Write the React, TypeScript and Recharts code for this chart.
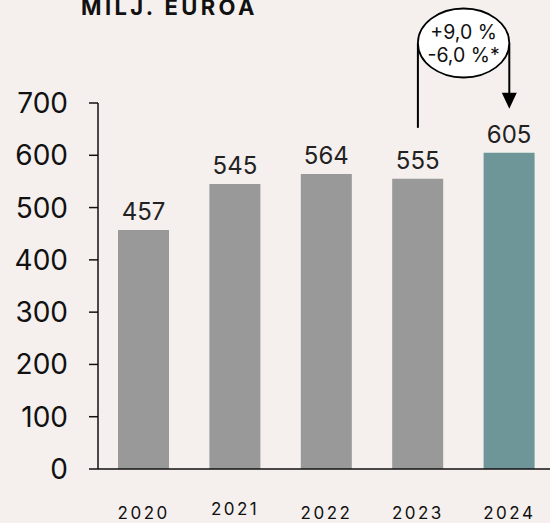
import { BarChart, Bar, XAxis, YAxis, Cell, LabelList } from "recharts"

const years = ["2020", "2021", "2022", "2023", "2024"]
const revenue = [457, 545, 564, 555, 605]
const yTicks = [0, 100, 200, 300, 400, 500, 600, 700]
const changeLabels = ["+9,0 %", "-6,0 %*"]
const title = "MILJ. EUROA"

const data = years.map((y, i) => ({ year: y, value: revenue[i] }))

const W = 555
const H = 523
const Y_W = 98
const X_H = 54
const TOP = 103
const MAX = 700
const BG = "#f5f0ed"
const GREY = "#999999"
const TEAL = "#6e9699"
const FONT = "Inter, 'Noto Sans', sans-serif"

const plotW = W - Y_W
const plotH = H - TOP - X_H
const band = plotW / years.length
const xc = (i: number) => Y_W + (i + 0.5) * band
const yv = (v: number) => TOP + plotH - (v / MAX) * plotH

const YearTick = (props: any) => {
  const { x, y, payload } = props
  const lift = payload.value === "2021" ? -4 : 0
  return (
    <text x={x} y={y + 42 + lift} textAnchor="middle" fontSize={17} letterSpacing={2.5} fill="#111" fontFamily={FONT}>
      {payload.value}
    </text>
  )
}

function Annotation() {
  const a = years.length - 2
  const b = years.length - 1
  const x1 = xc(a)
  const x2 = xc(b)
  const cx = (x1 + x2) / 2
  const cy = 43
  const rx = (x2 - x1) / 2
  const ry = 34.5
  const leftEnd = yv(revenue[a]) - 51
  const tip = yv(revenue[b]) - 44
  return (
    <svg width={550} height={H} style={{ position: "absolute", left: 0, top: 0, pointerEvents: "none" }}>
      <text x={81} y={15} fontSize={22} fontWeight={700} letterSpacing={3.4} fill="#111" fontFamily={FONT}>
        {title}
      </text>
      <line x1={x1} y1={cy} x2={x1} y2={leftEnd} stroke="#000" strokeWidth={2} />
      <line x1={x2} y1={cy} x2={x2} y2={tip - 14} stroke="#000" strokeWidth={2} />
      <polygon points={`${x2 - 7.5},${tip - 16} ${x2 + 7.5},${tip - 16} ${x2},${tip}`} fill="#000" />
      <ellipse cx={cx} cy={cy} rx={rx} ry={ry} fill="#fff" stroke="#000" strokeWidth={1.8} />
      <text x={cx} y={cy - 4} textAnchor="middle" fontSize={19.5} fill="#111" fontFamily={FONT}>
        {changeLabels[0]}
      </text>
      <text x={cx} y={cy + 19} textAnchor="middle" fontSize={19.5} fill="#111" fontFamily={FONT}>
        {changeLabels[1]}
      </text>
    </svg>
  )
}

export default function App() {
  return (
    <div style={{ position: "absolute", left: 0, top: 0, width: 550, height: H, overflow: "hidden", background: BG, fontFamily: FONT }}>
      <BarChart width={W} height={H} data={data} margin={{ top: TOP, right: 0, bottom: 0, left: 0 }}>
        <XAxis
          dataKey="year"
          height={X_H}
          tickLine={false}
          axisLine={{ stroke: "#111", strokeWidth: 1.5 }}
          tick={<YearTick />}
          interval={0}
        />
        <YAxis
          width={Y_W}
          domain={[0, MAX]}
          ticks={yTicks}
          tickSize={9}
          tickMargin={21}
          axisLine={{ stroke: "#111", strokeWidth: 1.5 }}
          tickLine={{ stroke: "#111", strokeWidth: 1.5 }}
          tick={{ fontSize: 28, fill: "#111", fontFamily: FONT }}
        />
        <Bar dataKey="value" barSize={51} isAnimationActive={false}>
          {data.map((d, i) => (
            <Cell key={d.year} fill={i === data.length - 1 ? TEAL : GREY} />
          ))}
          <LabelList dataKey="value" position="top" offset={10} fontSize={24} fill="#222" fontFamily={FONT} />
        </Bar>
      </BarChart>
      <Annotation />
    </div>
  )
}
